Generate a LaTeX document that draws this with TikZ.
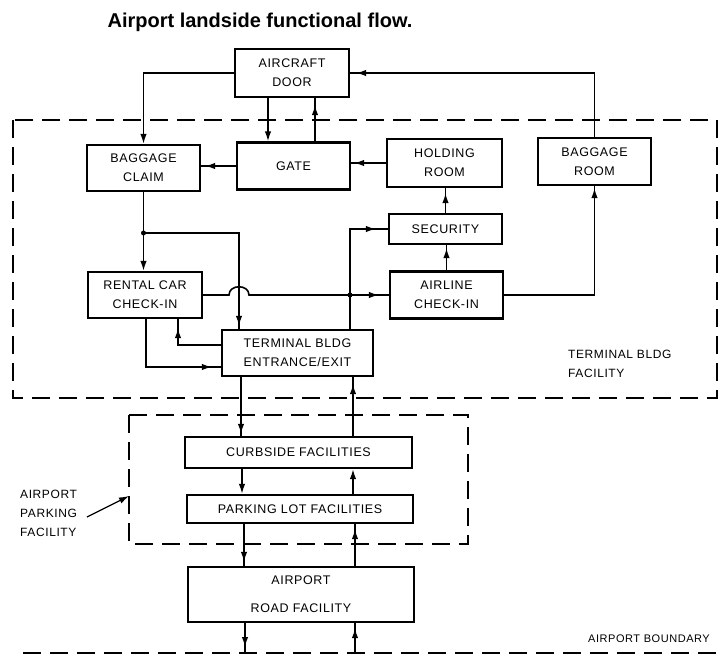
\documentclass[tikz,border=0pt]{standalone}
\usepackage{fontspec}
\setmainfont{Liberation Sans}
\newfontfamily\boxfont[LetterSpace=5]{Liberation Sans}
\usetikzlibrary{arrows.meta,decorations.markings}
\begin{document}
\begin{tikzpicture}[x=1pt,y=-1pt,
  box/.style={draw,line width=2.2pt,inner sep=0pt,align=center,
    font=\boxfont\fontsize{12.5}{19}\selectfont},
  lbl/.style={inner sep=0pt,align=left,font=\boxfont\fontsize{12}{19}\selectfont},
  conn/.style={line width=1.6pt},
  ea/.style={conn,-{Latex[length=10pt,width=6.5pt]}},
  ma/.style={conn,postaction={decorate},decoration={markings,
    mark=at position -#1pt with {\arrow{Latex[length=10pt,width=6.5pt]}}}},
  dbox/.style={line width=2pt,dash pattern=on 18pt off 9pt},
  dot/.style={circle,fill,inner sep=0pt,minimum size=5pt}]
\useasboundingbox (0,0) rectangle (724,657);

% title
\node[font=\bfseries\fontsize{20}{23}\selectfont] (title) at (260,22) {Airport landside functional flow.};

% dashed facility outlines
\draw[dbox] (13,120) rectangle (717,398);
\draw[dbox] (129,415) rectangle (468,544);
\draw[dbox] (23,653) -- (724,653);

% boxes
\node[box,minimum width=114pt,minimum height=48pt] (door) at (292,73) {AIRCRAFT\\DOOR};
\node[box,minimum width=113pt,minimum height=47pt] (gate) at (293.5,166) {GATE};
\node[box,minimum width=113pt,minimum height=46pt] (bclaim) at (143.5,168) {BAGGAGE\\CLAIM};
\node[box,minimum width=115pt,minimum height=48pt] (hold) at (444.5,163) {HOLDING\\ROOM};
\node[box,minimum width=113pt,minimum height=47pt] (broom) at (594.5,161.5) {BAGGAGE\\ROOM};
\node[box,minimum width=113pt,minimum height=30pt] (sec) at (445.5,229) {SECURITY};
\node[box,minimum width=113pt,minimum height=47pt] (airl) at (446.5,295) {AIRLINE\\CHECK-IN};
\node[box,minimum width=114pt,minimum height=46pt] (rental) at (145,295) {RENTAL CAR\\CHECK-IN};
\node[box,minimum width=151pt,minimum height=46pt] (term) at (297.5,353) {TERMINAL BLDG\\ENTRANCE/EXIT};
\node[box,minimum width=227pt,minimum height=31pt] (curb) at (298.5,452.5) {CURBSIDE FACILITIES};
\node[box,minimum width=226pt,minimum height=28pt] (park) at (300,509) {PARKING LOT FACILITIES};
\node[box,minimum width=226pt,minimum height=55pt] (road) at (301,594.5) {AIRPORT\\[9pt]ROAD FACILITY};

% labels
\node[lbl,anchor=north west] (tlabel) at (568,350) {TERMINAL BLDG\\FACILITY};
\node[lbl,anchor=north west] (plabel) at (20,490) {AIRPORT\\PARKING\\FACILITY};
\node[lbl,anchor=south east,font=\boxfont\fontsize{11}{14}\selectfont] (blabel) at (710,643) {AIRPORT BOUNDARY};
\coordinate (ptip) at (129,496);
\draw[ea,line width=1.3pt] (87,517) -- (ptip);

% junctions
\coordinate (j1) at (143.5,233);
\coordinate (j2) at (350,295);
\coordinate (b1) at (245,653);
\coordinate (b2) at (355,653);

% connectors
\draw[ea] (door.west) -| (bclaim.north);
\draw[ea] (door.south -| 268,0) -- (gate.north -| 268,0);
\draw[ma=7] (gate.north -| 315,0) -- (door.south -| 315,0);
\draw[ma=4] (gate.west) -- (gate.west -| bclaim.east);
\draw[ma=6] (broom.north) |- (door.east);
\draw[ma=3] (hold.west) -- (hold.west -| gate.east);
\draw[ma=5] (sec.north) -- (sec.north |- hold.south);
\draw[ma=3] (airl.north) -- (airl.north |- sec.south);
\draw[ma=2] (airl.east) -| (broom.south);

\draw[ea] (bclaim.south) -- (bclaim.south |- rental.north);
\draw[ma=3] (j1) -| (term.north -| 239,0);
\draw[ma=10] (rental.east) -- (229,295) .. controls (229,284) and (249,284) .. (249,295) -- (airl.west);
\draw[ma=12] (term.north -| j2) |- (sec.west);
\draw[ma=9] (term.west |- 0,345) -| (rental.south -| 178,0);
\draw[ma=9] (rental.south -| 146,0) |- (term.west |- 0,367);

\draw[ma=2] (term.south -| 241,0) -- (curb.north -| 241,0);
\draw[ma=7] (curb.north -| 353,0) -- (term.south -| 353,0);
\draw[ea] (curb.south -| 242,0) -- (park.north -| 242,0);
\draw[ea] (park.north -| 353,0) -- (curb.south -| 353,0);
\draw[ma=4] (park.south -| 244,0) -- (road.north -| 244,0);
\draw[ma=5] (road.north -| 355,0) -- (park.south -| 355,0);
\draw[ma=6] (road.south -| b1) -- (b1);
\draw[ma=5] (b2) -- (road.south -| b2);

\node[dot] at (j1) {};
\node[dot] at (j2) {};
\end{tikzpicture}
\end{document}
